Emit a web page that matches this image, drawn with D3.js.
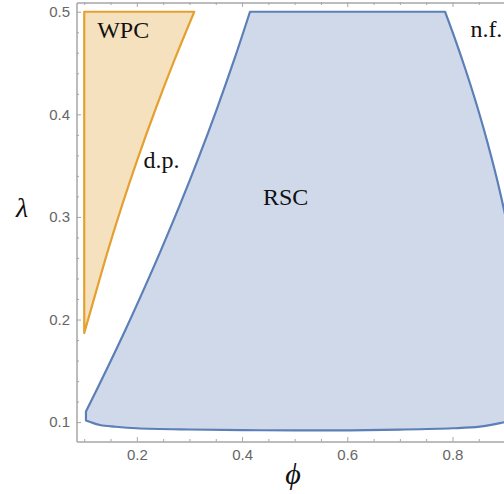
<!DOCTYPE html>
<html>
<head>
<meta charset="utf-8">
<script src="https://cdn.jsdelivr.net/npm/d3@7/dist/d3.min.js"></script>
<style>
  html, body { margin: 0; padding: 0; background: #fff; }
  svg { display: block; }
</style>
</head>
<body>
<svg id="chart" width="504" height="494"></svg>
<script>
/* ------------------------------------------------------------------
   Data – all points are [phi, lambda]
   ------------------------------------------------------------------ */
const xMajorTicks = [0.2, 0.4, 0.6, 0.8];
const xMinorTicks = [0.1, 0.15, 0.25, 0.3, 0.35, 0.45, 0.5, 0.55, 0.65, 0.7, 0.75, 0.85, 0.9];
const yMajorTicks = [0.1, 0.2, 0.3, 0.4, 0.5];
const yMinorTicks = [0.12, 0.14, 0.16, 0.18, 0.22, 0.24, 0.26, 0.28, 0.32, 0.34,
                     0.36, 0.38, 0.42, 0.44, 0.46, 0.48];

// WPC region edges
const wpcTop   = [[0.1, 0.5], [0.3092, 0.5]];
const wpcRight = [[0.3092, 0.5], [0.2719, 0.4535], [0.2353, 0.4047], [0.2010, 0.3559],
                  [0.1723, 0.3120], [0.1456, 0.2681], [0.1236, 0.2291], [0.1, 0.1868]];
const wpcLeft  = [[0.1, 0.1868], [0.1, 0.5]];

// RSC region edges (runs past the right edge of the frame)
const rscTop    = [[0.4151, 0.5], [0.7858, 0.5]];
const rscRight  = [[0.7858, 0.5], [0.8051, 0.4730], [0.8247, 0.4437], [0.8429, 0.4145],
                   [0.8597, 0.3852], [0.8751, 0.3559], [0.8893, 0.3266], [0.9020, 0.2973],
                   [0.9133, 0.2681], [0.93, 0.2], [0.942, 0.14], [0.945, 0.11]];
const rscBottom = [[0.945, 0.11], [0.93, 0.1035], [0.896, 0.0996], [0.852, 0.0956],
                   [0.8, 0.094], [0.7, 0.0927], [0.6, 0.092], [0.5, 0.092], [0.4, 0.0922],
                   [0.3, 0.0928], [0.2, 0.094], [0.16, 0.0955], [0.13, 0.0972], [0.1033, 0.1016]];
const rscCorner = [[0.1033, 0.1016], [0.1033, 0.1103]];
const rscLeft   = [[0.1033, 0.1103], [0.1423, 0.1510], [0.1784, 0.1900], [0.2130, 0.2291],
                   [0.2463, 0.2681], [0.2820, 0.3120], [0.3160, 0.3559], [0.3517, 0.4047],
                   [0.3852, 0.4535], [0.4151, 0.5]];

const regionLabels = ["WPC", "d.p.", "RSC", "n.f."];
const labelPhi     = [0.1246, 0.2125, 0.4398, 0.834];
const labelLambda  = [0.474, 0.3478, 0.312, 0.4756];

/* ------------------------------------------------------------------
   Scales
   ------------------------------------------------------------------ */
const svg = d3.select("#chart");
const x = d3.scaleLinear().domain([0.0853, 0.9]).range([76.5, 505.1]);
const y = d3.scaleLinear().domain([0.0811, 0.509]).range([441.5, 2.5]);

const AXIS_COL  = "#a6a6a6";
const LABEL_COL = "#666666";

svg.append("defs").append("clipPath").attr("id", "plot-clip")
  .append("rect")
  .attr("x", x.range()[0]).attr("y", y.range()[1])
  .attr("width", x.range()[1] - x.range()[0])
  .attr("height", y.range()[0] - y.range()[1]);

/* ---------- region painter : smooth edges, sharp corners ---------- */
const smooth   = d3.line().curve(d3.curveCatmullRom.alpha(0.5)).x(d => x(d[0])).y(d => y(d[1]));
const straight = d3.line().x(d => x(d[0])).y(d => y(d[1]));

function regionPath(edges) {
  return edges.map((pts, i) => {
    const d = (pts.length > 2 ? smooth : straight)(pts);
    return i === 0 ? d : d.replace(/^M[^LC]*/, "");
  }).join("") + "Z";
}

const plot = svg.append("g").attr("clip-path", "url(#plot-clip)");

plot.append("path")
  .attr("d", regionPath([rscTop, rscRight, rscBottom, rscCorner, rscLeft]))
  .attr("fill", "#d0d9ea")
  .attr("stroke", "#5b7fb6")
  .attr("stroke-width", 2.2)
  .attr("stroke-linejoin", "round");

plot.append("path")
  .attr("d", regionPath([wpcTop, wpcRight, wpcLeft]))
  .attr("fill", "#f6e1be")
  .attr("stroke", "#e4a030")
  .attr("stroke-width", 2.2)
  .attr("stroke-linejoin", "round");

/* ---------- frame + ticks ---------- */
function styleAxis(g) {
  g.select(".domain").attr("stroke", AXIS_COL);
  g.selectAll(".tick line").attr("stroke", AXIS_COL);
  g.selectAll(".tick text")
    .attr("fill", LABEL_COL)
    .attr("font-family", "'Liberation Sans', Arial, sans-serif")
    .attr("font-size", 15);
}

// bottom
svg.append("g").attr("transform", `translate(0,${y.range()[0]})`)
  .call(d3.axisBottom(x).tickValues(xMajorTicks).tickFormat(d3.format(".1f"))
        .tickSizeInner(-4.5).tickSizeOuter(0).tickPadding(8))
  .call(styleAxis);
svg.append("g").attr("transform", `translate(0,${y.range()[0]})`)
  .call(d3.axisBottom(x).tickValues(xMinorTicks).tickFormat("")
        .tickSizeInner(-2.5).tickSizeOuter(0))
  .call(styleAxis);

// top (frame, no labels)
svg.append("g").attr("transform", `translate(0,${y.range()[1]})`)
  .call(d3.axisTop(x).tickValues(xMajorTicks).tickFormat("")
        .tickSizeInner(-4.5).tickSizeOuter(0))
  .call(styleAxis);
svg.append("g").attr("transform", `translate(0,${y.range()[1]})`)
  .call(d3.axisTop(x).tickValues(xMinorTicks).tickFormat("")
        .tickSizeInner(-2.5).tickSizeOuter(0))
  .call(styleAxis);

// left
svg.append("g").attr("transform", `translate(${x.range()[0]},0)`)
  .call(d3.axisLeft(y).tickValues(yMajorTicks).tickFormat(d3.format(".1f"))
        .tickSizeInner(-4.5).tickSizeOuter(0).tickPadding(6.5))
  .call(styleAxis);
svg.append("g").attr("transform", `translate(${x.range()[0]},0)`)
  .call(d3.axisLeft(y).tickValues(yMinorTicks).tickFormat("")
        .tickSizeInner(-2.5).tickSizeOuter(0))
  .call(styleAxis);

/* ---------- region labels ---------- */
svg.append("g").selectAll("text")
  .data(regionLabels)
  .join("text")
  .attr("x", (d, i) => x(labelPhi[i]))
  .attr("y", (d, i) => y(labelLambda[i]))
  .attr("font-family", "'Liberation Serif', 'Times New Roman', serif")
  .attr("font-size", 24)
  .attr("fill", "#111")
  .text(d => d);

/* ---------- axis titles ---------- */
svg.append("text")
  .attr("x", 293).attr("y", 484)
  .attr("text-anchor", "middle")
  .attr("font-family", "'Liberation Serif', 'Times New Roman', serif")
  .attr("font-style", "italic")
  .attr("font-size", 30)
  .attr("fill", "#111")
  .text("\u03D5");

svg.append("text")
  .attr("x", 22).attr("y", 217)
  .attr("text-anchor", "middle")
  .attr("font-family", "'Liberation Serif', 'Times New Roman', serif")
  .attr("font-style", "italic")
  .attr("font-size", 28)
  .attr("fill", "#111")
  .text("λ");
</script>
</body>
</html>
